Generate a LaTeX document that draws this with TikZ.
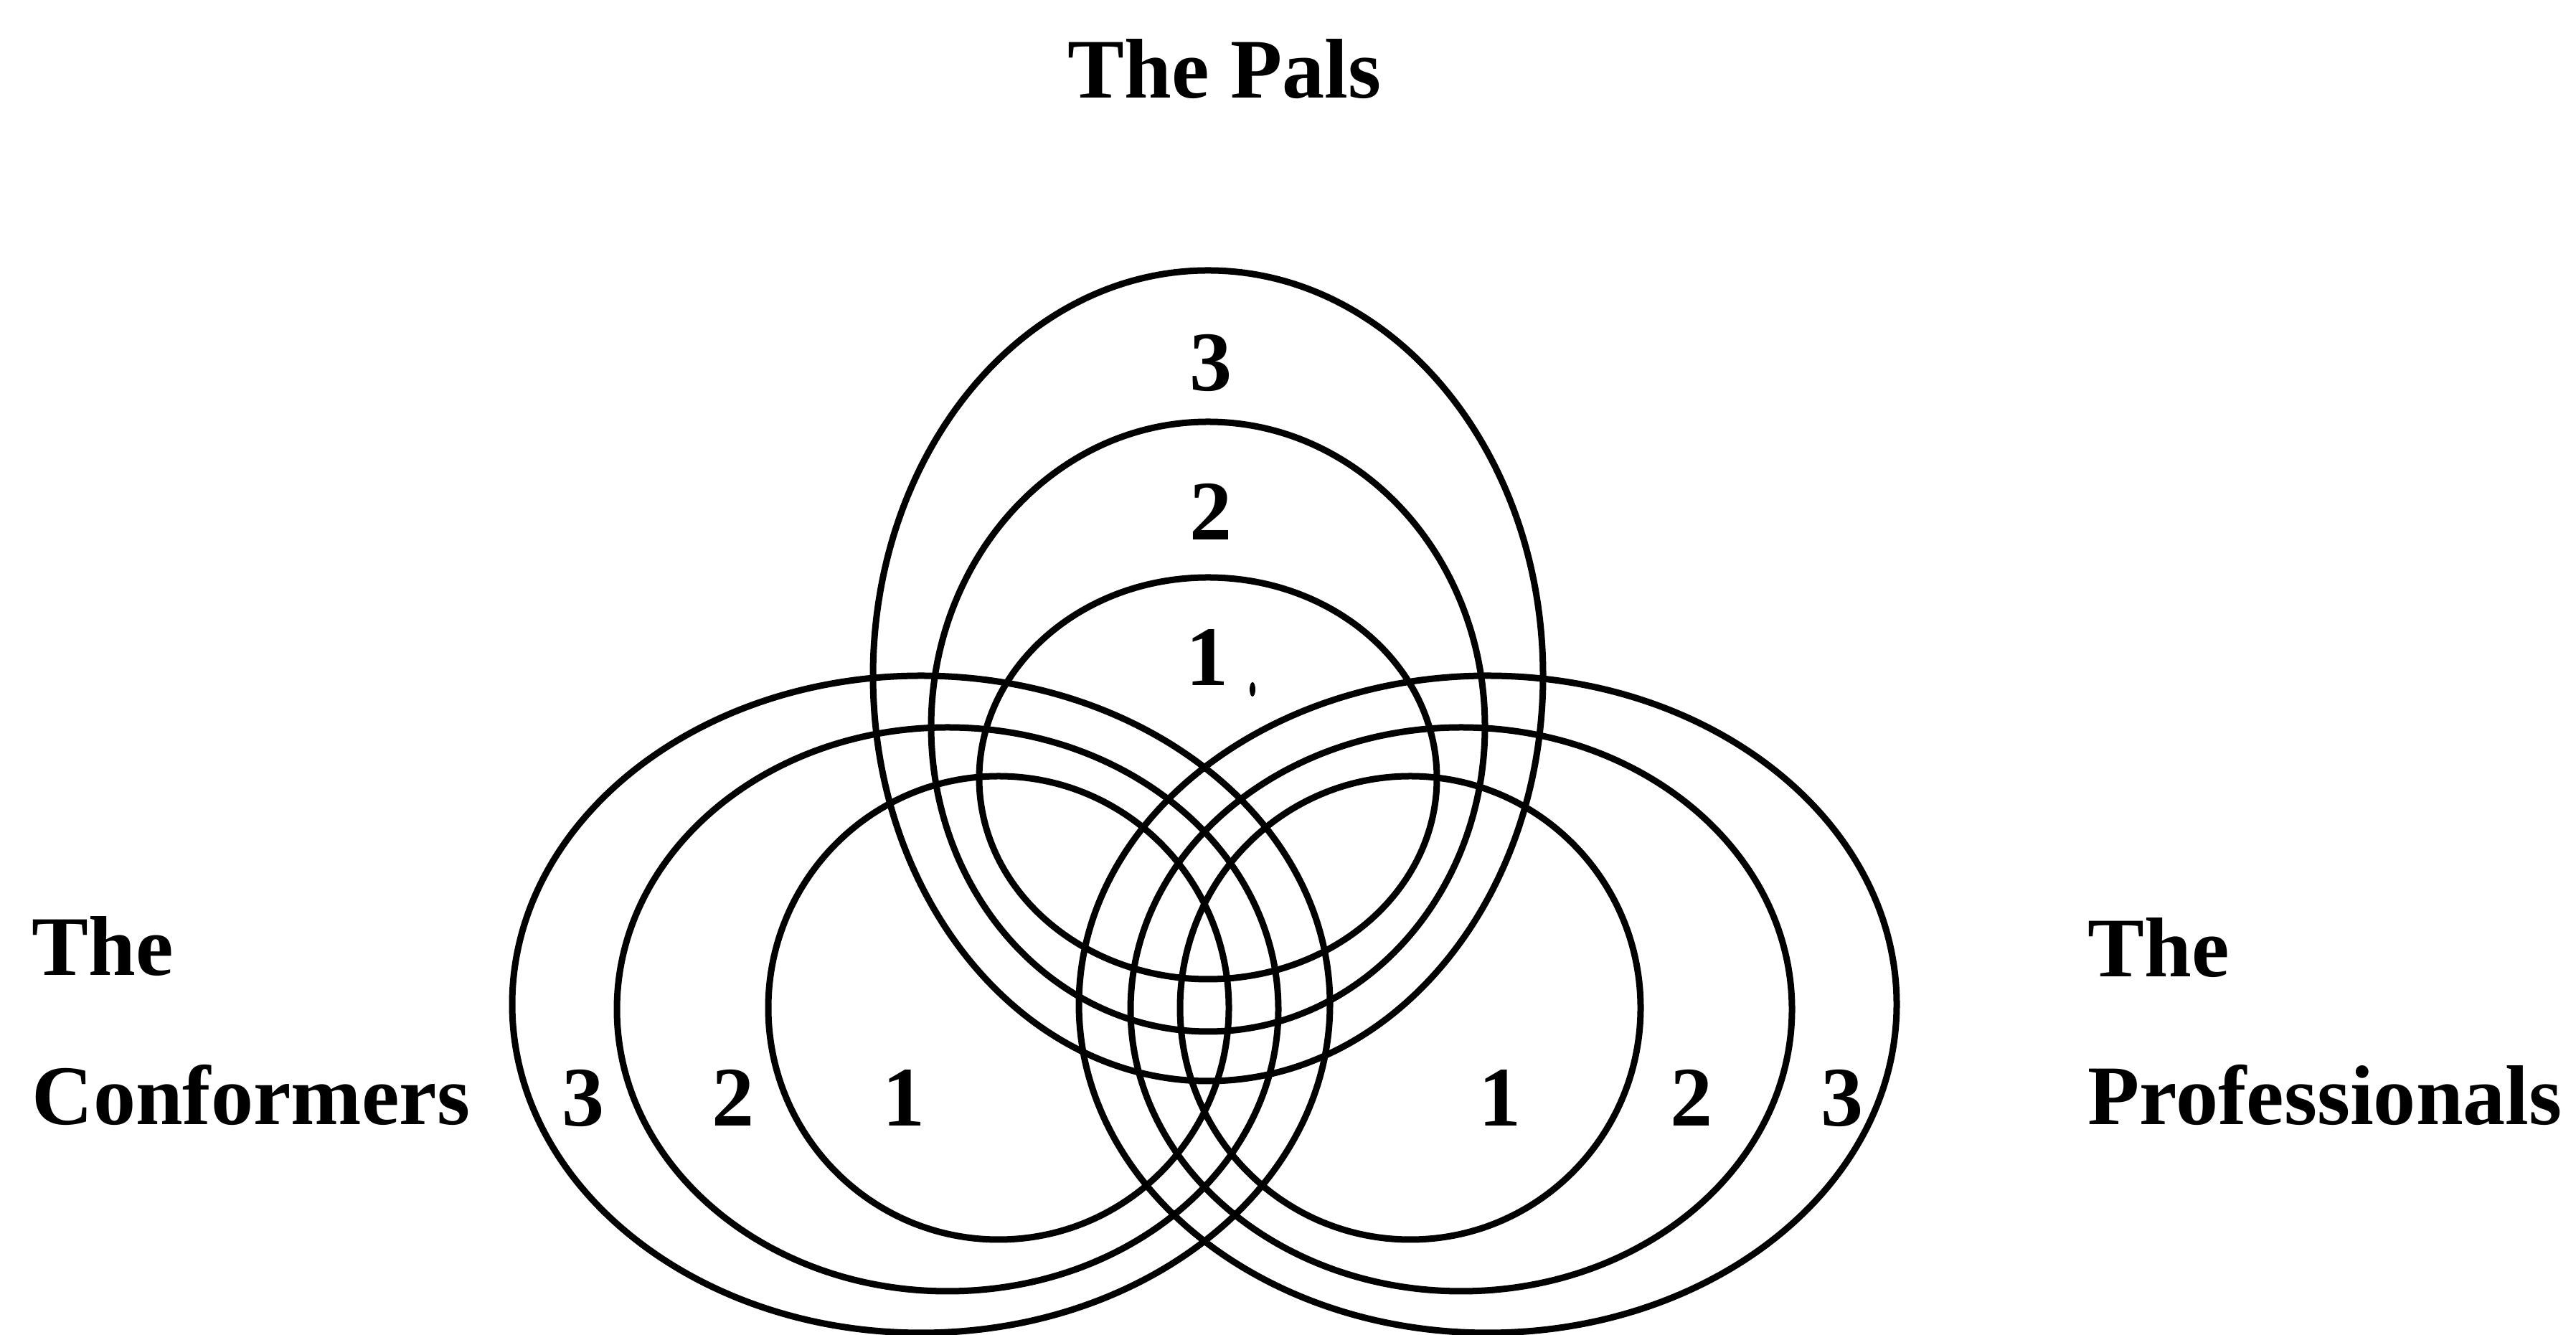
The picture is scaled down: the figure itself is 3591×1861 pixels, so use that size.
\documentclass[tikz,border=0pt]{standalone}
\usepackage{fontspec}
\setmainfont{Liberation Serif}
\begin{document}
\begin{tikzpicture}[x=0.01cm,y=0.01cm]
\tikzset{
  ring/.style={draw=black, line width=2.56pt},
  lab/.style={font=\bfseries\fontsize{33.6pt}{40pt}\selectfont, inner sep=0pt, anchor=base},
  grouplab/.style={lab, anchor=base west}
}
\useasboundingbox (0,0) rectangle (3591,1861);
% The Pals
\draw[ring] (1684,919) ellipse [x radius=467, y radius=565];
\draw[ring] (1684,848) ellipse [x radius=386, y radius=425];
\draw[ring] (1684,776) ellipse [x radius=319, y radius=280];
% The Conformers
\draw[ring] (1284,461) ellipse [x radius=570, y radius=458];
\draw[ring] (1321,454) ellipse [x radius=461, y radius=393];
\draw[ring] (1392,456) ellipse [x radius=321, y radius=323];
% The Professionals
\draw[ring] (2074,461) ellipse [x radius=570, y radius=458];
\draw[ring] (2037,454) ellipse [x radius=461, y radius=393];
\draw[ring] (1966,456) ellipse [x radius=321, y radius=323];
% group labels
\node[lab] (pals) at (1707,1724) {The Pals};
\node[grouplab] (confA) at (44,501) {The};
\node[grouplab] (confB) at (44,293) {Conformers};
\node[grouplab] (profA) at (2910,499) {The};
\node[grouplab] (profB) at (2910,293) {Professionals};
% ring numbers
\node[lab] (p3) at (1688,1316) {3};
\node[lab] (p2) at (1688,1108) {2};
\node[lab] (p1) at (1683,905) {1};
\fill (1746,900) ellipse [x radius=4, y radius=10];
\node[lab] (c3) at (813,291) {3};
\node[lab] (c2) at (1022,291) {2};
\node[lab] (c1) at (1260,291) {1};
\node[lab] (r1) at (2091,291) {1};
\node[lab] (r2) at (2358,291) {2};
\node[lab] (r3) at (2568,291) {3};
\end{tikzpicture}
\end{document}
